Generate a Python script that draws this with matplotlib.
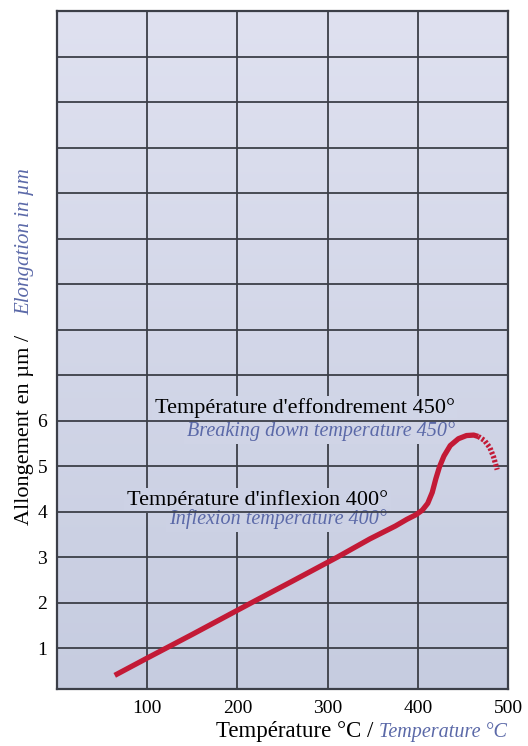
import numpy as np
import matplotlib
matplotlib.use('Agg')
import matplotlib.pyplot as plt
from matplotlib.colors import LinearSegmentedColormap

# elongation curve (temperature in °C, elongation in µm)
temp_solid = [64, 100, 150, 216, 260, 311, 347, 375, 388, 398, 405, 411, 416, 420, 424, 429, 436, 445, 454, 462, 467]
elong_solid = [0.40, 0.78, 1.30, 2.00, 2.46, 3.00, 3.40, 3.68, 3.83, 3.93, 4.03, 4.18, 4.42, 4.72, 4.98, 5.22, 5.45, 5.60, 5.67, 5.68, 5.65]
temp_dashed = [467, 474, 480, 484, 488]
elong_dashed = [5.65, 5.56, 5.40, 5.20, 4.92]

x_ticks = [100, 200, 300, 400, 500]
y_ticks = [1, 2, 3, 4, 5, 6]
y_grid = list(range(1, 15))
x_grid = [100, 200, 300, 400]

bg_top = '#dfe1f0'
bg_bottom = '#c6cce0'
line_col = '#3c3f48'
red = '#c31a36'
blue = '#5b69a8'
serif = 'Liberation Serif'

W, H = 528, 746
fig = plt.figure(figsize=(W / 100, H / 100), dpi=100)
ax = fig.add_axes([57 / W, 1 - 689 / H, (508 - 57) / W, (689 - 11) / H])

x0, x1, y0, y1 = 0, 500, 0.1, 15
ax.set_xlim(x0, x1)
ax.set_ylim(y0, y1)

cmap = LinearSegmentedColormap.from_list('bg', [bg_bottom, bg_top])
grad = np.linspace(0, 1, 256).reshape(-1, 1)
ax.imshow(grad, cmap=cmap, extent=[x0, x1, y0, y1], origin='lower', aspect='auto', zorder=0)


def bg_at(y):
    return cmap((y - y0) / (y1 - y0))


for xv in x_grid:
    ax.axvline(xv, color=line_col, lw=1.3, zorder=1)
for yv in y_grid:
    ax.axhline(yv, color=line_col, lw=1.3, zorder=3)

ax.plot(temp_solid, elong_solid, color=red, lw=3.8, solid_capstyle='butt',
        solid_joinstyle='round', zorder=5)
ax.plot(temp_dashed, elong_dashed, color=red, lw=3.8, dashes=(0.45, 0.35),
        dash_capstyle='butt', zorder=5)

labels = [
    ("Température d'effondrement 450°", 441, 6.16, 'black', 'normal', 16),
    ("Breaking down temperature 450°", 441, 5.66, blue, 'italic', 14.5),
    ("Température d'inflexion 400°", 367, 4.14, 'black', 'normal', 16),
    ("Inflexion temperature 400°", 366, 3.73, blue, 'italic', 14.5),
]
for txt, tx, ty, col, sty, fs in labels:
    ax.text(tx, ty, txt, ha='right', va='baseline', color=col, style=sty,
            family=serif, fontsize=fs, zorder=2,
            bbox=dict(facecolor=bg_at(ty + 0.2), edgecolor='none', pad=2.0))

ax.set_xticks(x_ticks)
ax.set_yticks(y_ticks)
ax.set_xticklabels([str(v) for v in x_ticks], family=serif, fontsize=14)
ax.set_yticklabels([str(v) for v in y_ticks], family=serif, fontsize=14)
ax.tick_params(length=0)
ax.tick_params(axis='x', pad=8)
ax.tick_params(axis='y', pad=7)
for s in ax.spines.values():
    s.set_color(line_col)
    s.set_linewidth(1.6)
    s.set_zorder(6)

# axis titles, French in black and English in blue italic
fig.text(507 / W, 1 - 737 / H, 'Temperature °C', ha='right', va='baseline',
         color=blue, style='italic', family=serif, fontsize=14.5)
fig.text(373 / W, 1 - 737 / H, 'Température °C /', ha='right', va='baseline',
         color='black', family=serif, fontsize=16.5)
fig.text(29 / W, 1 - 525 / H, 'Allongement en µm /', rotation=90, rotation_mode='anchor',
         ha='left', va='baseline', color='black', family=serif, fontsize=16)
fig.text(29 / W, 1 - 168 / H, 'Elongation in µm', rotation=90, rotation_mode='anchor',
         ha='right', va='baseline', color=blue, style='italic', family=serif, fontsize=15)

fig.savefig('out.png', dpi=100)
